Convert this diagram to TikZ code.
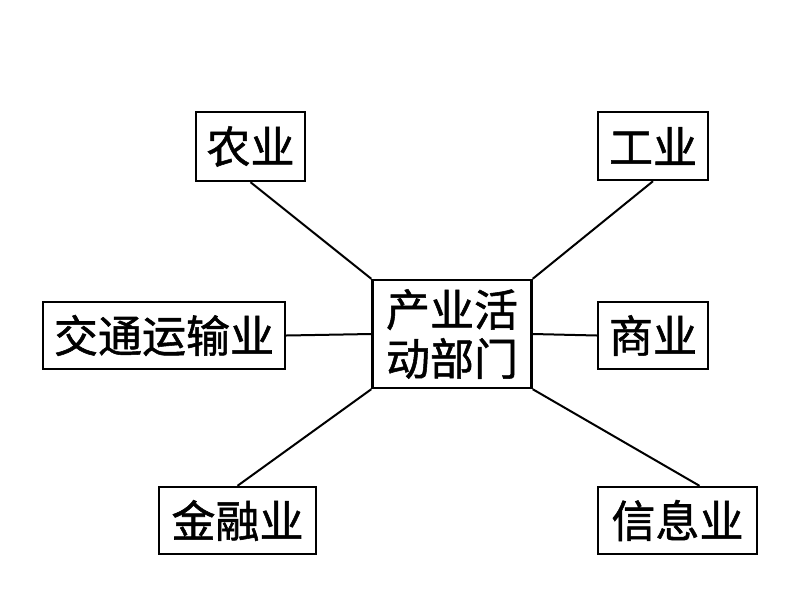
\documentclass[tikz,border=0pt]{standalone}
\usepackage{fontspec}
\newfontfamily\cjk[AutoFakeBold=1.2]{Noto Sans CJK SC}
\begin{document}
\begin{tikzpicture}[x=1pt,y=-1pt,
  box/.style={draw=black,line width=2.4pt,inner sep=0pt,align=center,
    font=\cjk\bfseries\fontsize{44}{49}\selectfont},
  link/.style={draw=black,line width=2pt}]
\useasboundingbox[fill=white] (0,0) rectangle (800,600);
\node[box,minimum width=159pt,minimum height=108pt] (c) at (452,334) {产业活\\动部门};
\node[box,minimum width=109pt,minimum height=69pt] (nong) at (250.5,146.5) {农业};
\node[box,minimum width=110pt,minimum height=68pt] (gong) at (653,146) {工业};
\node[box,minimum width=242pt,minimum height=67pt] (jt) at (164,335.5) {交通运输业};
\node[box,minimum width=110pt,minimum height=67pt] (shang) at (653,335.5) {商业};
\node[box,minimum width=157pt,minimum height=67pt] (jr) at (237.5,520.5) {金融业};
\node[box,minimum width=159pt,minimum height=67pt] (xx) at (677.5,520.5) {信息业};
\coordinate (xxtop) at ([xshift=22pt]xx.north);
\draw[link] (nong.south) -- (c.north west);
\draw[link] (gong.south) -- (c.north east);
\draw[link] (jt.east) -- (c.west);
\draw[link] (shang.west) -- (c.east);
\draw[link] (jr.north) -- (c.south west);
\draw[link] (xxtop) -- (c.south east);
\end{tikzpicture}
\end{document}
